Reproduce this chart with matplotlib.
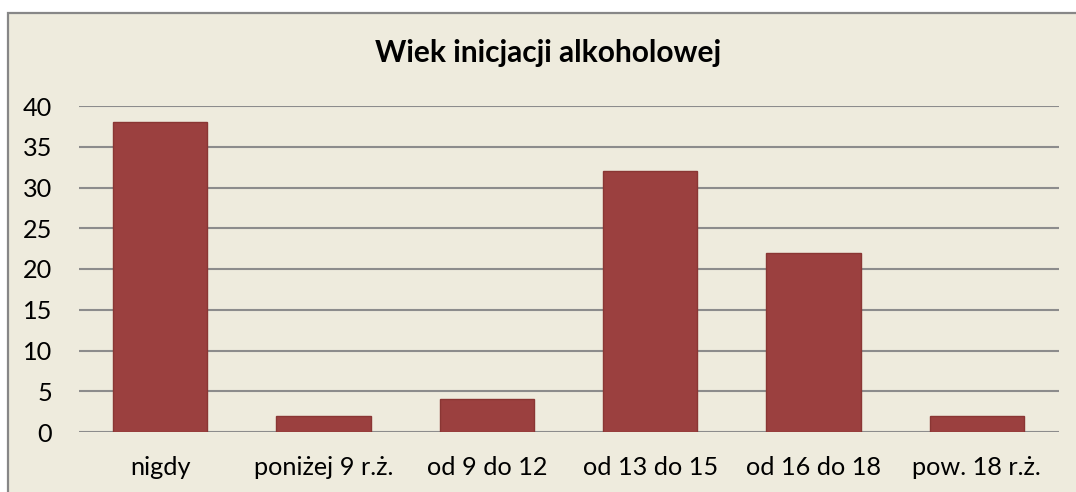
import matplotlib
matplotlib.use("Agg")
import matplotlib.pyplot as plt
from matplotlib.patches import Rectangle

categories = ["nigdy", "poniżej 9 r.ż.", "od 9 do 12", "od 13 do 15", "od 16 do 18", "pow. 18 r.ż."]
values = [38, 2, 4, 32, 22, 2]
yticks = [0, 5, 10, 15, 20, 25, 30, 35, 40]
title = "Wiek inicjacji alkoholowej"

W, H = 1076, 492
fig = plt.figure(figsize=(W / 100, H / 100), dpi=100, facecolor="white")
plt.rcParams["font.family"] = ["Lato", "DejaVu Sans"]

bg = "#EEEBDD"
bgrect = Rectangle((8 / W, -0.1), 1.2, 1 - 13 / H + 0.1, transform=fig.transFigure,
                   facecolor=bg, edgecolor="#878787", linewidth=1.6, zorder=-10)
fig.add_artist(bgrect)

ax = fig.add_axes([78.5 / W, 1 - 432 / H, (1058.5 - 78.5) / W, (432 - 106) / H])
ax.set_zorder(1)
ax.set_facecolor("none")
x = range(len(categories))
ax.bar(x, values, width=0.576, color="#9B403F", edgecolor="#8A3634", linewidth=1.0, zorder=3)
ax.set_xlim(-0.5, len(categories) - 0.5)
ax.set_ylim(0, 40)
ax.set_yticks(yticks)
ax.set_xticks(list(x))
ax.set_xticklabels(categories)
for yv in yticks:
    ax.axhline(yv, color="#8C8C8C", linewidth=1.5, zorder=1)
for s in ax.spines.values():
    s.set_visible(False)
ax.tick_params(axis="both", length=0, labelsize=18.2, colors="black")
ax.tick_params(axis="y", pad=19)
ax.tick_params(axis="x", pad=17)
fig.text(548 / W, 1 - 62 / H, title, ha="center", va="baseline", fontsize=21.5, fontweight="bold", zorder=5)
fig.savefig("out.png", dpi=100, facecolor="white")
